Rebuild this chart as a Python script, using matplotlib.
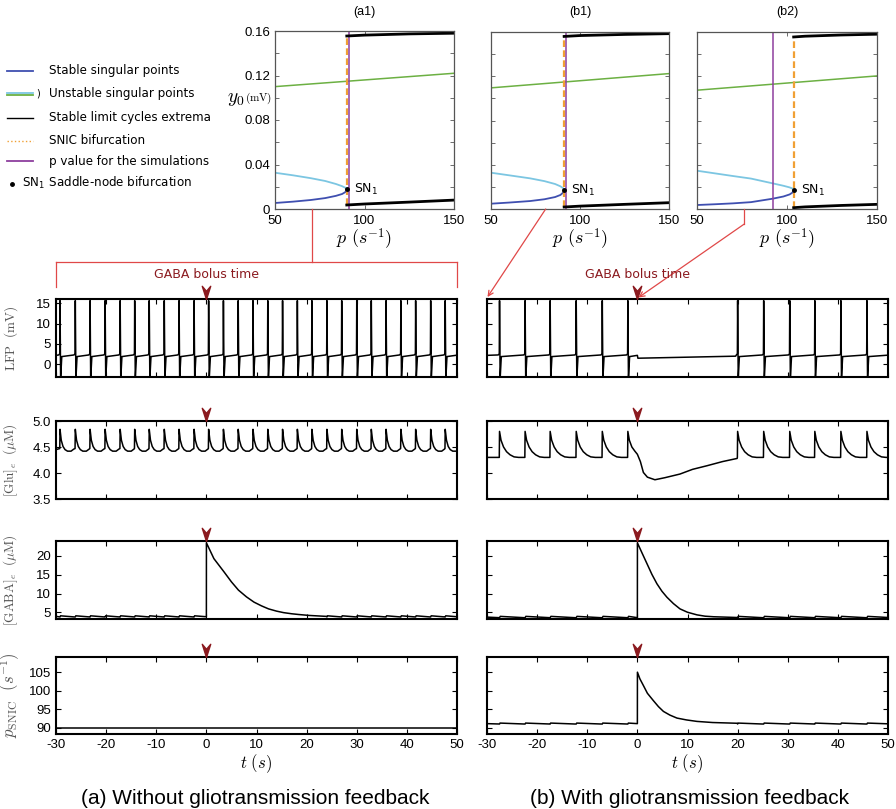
import numpy as np
import matplotlib.pyplot as plt
from matplotlib.lines import Line2D
from matplotlib.patches import FancyArrowPatch
from matplotlib.path import Path
from matplotlib.transforms import blended_transform_factory

plt.rcParams['font.family'] = ['Liberation Sans', 'DejaVu Sans']
plt.rcParams['mathtext.fontset'] = 'cm'

# ---------------- bifurcation diagrams (p in s^-1, y0 in mV) ----------------
a1_green_p = [50, 150]
a1_green_y = [0.110, 0.122]
a1_fold_p = [50, 60, 70, 78, 84, 87.5, 89.3, 90.1]
a1_unstable_y = [0.0326, 0.0303, 0.0277, 0.0252, 0.0225, 0.0205, 0.0191, 0.0176]
a1_stable_y = [0.0054, 0.0066, 0.0081, 0.0098, 0.0118, 0.0135, 0.0152, 0.0176]
a1_lc_p = [90.1, 100, 125, 150]
a1_lc_top = [0.1555, 0.1563, 0.1574, 0.1580]
a1_lc_bot = [0.0036, 0.0045, 0.0062, 0.0080]
a1_snic, a1_psim = 90.1, 91.4

b1_green_p = [50, 150]
b1_green_y = [0.1095, 0.1224]
b1_fold_p = [50, 60, 72, 80, 86, 89, 90.5, 91.1]
b1_unstable_y = [0.0328, 0.0305, 0.0277, 0.0252, 0.0226, 0.0205, 0.0188, 0.0171]
b1_stable_y = [0.0048, 0.0058, 0.0072, 0.0088, 0.0108, 0.0127, 0.0148, 0.0171]
b1_lc_p = [91.1, 100, 125, 150]
b1_lc_top = [0.1560, 0.1568, 0.1578, 0.1585]
b1_lc_bot = [0.0018, 0.0026, 0.0042, 0.0057]
b1_snic, b1_psim = 91.1, 92.0

b2_green_p = [50, 150]
b2_green_y = [0.1074, 0.1203]
b2_fold_p = [50, 60, 70, 80, 92, 98, 101.5, 103, 103.7]
b2_unstable_y = [0.0346, 0.0322, 0.0298, 0.0275, 0.0232, 0.0210, 0.0195, 0.0185, 0.0172]
b2_stable_y = [0.0036, 0.0043, 0.0051, 0.0062, 0.0093, 0.0113, 0.0132, 0.0148, 0.0172]
b2_lc_p = [103.7, 110, 130, 150]
b2_lc_top = [0.1555, 0.1562, 0.1573, 0.1580]
b2_lc_bot = [0.0012, 0.0019, 0.0032, 0.0042]
b2_snic, b2_psim = 103.7, 92.2

# ---------------- time series (t in s) ----------------
# spike times
spikes_a = [-29.2, -26.15, -23.2, -20.2, -17.2, -14.3, -11.4, -8.4, -5.45, -2.45,
            0.45, 3.4, 6.35, 9.3, 12.25, 15.2, 18.15, 21.05, 24.05, 27.0, 30.0,
            32.9, 35.85, 38.8, 41.75, 44.75, 47.65]
spikes_b = [-27.5, -22.4, -17.4, -12.2, -7.0, -1.9, 20.0, 25.2, 30.4, 35.4, 40.6, 45.8]

# shape of one LFP event (offset from spike time, mV)
lfp_dt = [-0.25, -0.05, 0.0, 0.12, 0.35]
lfp_v = [2.3, 2.6, 15.6, -3.6, 1.9]
lfp_b_bolus_t = [0.0, 0.1, 19.6]
lfp_b_bolus_v = [2.2, 1.5, 2.0]

# [Glu]e around each spike (offset, uM)
glu_a_dt = [-0.05, 0.0, 0.25, 0.6, 1.0, 1.5, 2.2, 2.75]
glu_a_v = [4.47, 4.84, 4.63, 4.51, 4.45, 4.42, 4.42, 4.46]
glu_b_dt = [-0.05, 0.0, 0.3, 0.8, 1.4, 2.1, 2.9, 3.8]
glu_b_v = [4.30, 4.80, 4.63, 4.50, 4.41, 4.35, 4.31, 4.30]
glu_b_bolus_t = [-0.5, 0.0, 0.6, 1.2, 2.0, 3.5, 5.5, 8.5, 11.0, 13.9, 17.0, 19.9]
glu_b_bolus_v = [4.42, 4.36, 4.22, 4.01, 3.92, 3.87, 3.91, 3.98, 4.07, 4.14, 4.22, 4.28]

# [GABA]e (uM)
gaba_a_dt = [0.0, 0.1, 2.85]
gaba_a_v = [3.75, 4.05, 3.75]
gaba_a_bolus_t = [0.0, 0.01, 1.5, 3.5, 5.0, 6.4, 8.0, 9.5, 11.0, 12.4, 14.0, 15.4, 17.0, 18.4, 20.5, 23.9]
gaba_a_bolus_v = [3.8, 23.5, 19.3, 15.8, 13.1, 10.9, 9.1, 7.7, 6.7, 5.9, 5.3, 4.9, 4.6, 4.4, 4.15, 3.9]
gaba_b_dt = [0.0, 0.15, 4.9]
gaba_b_v = [3.55, 3.9, 3.55]
gaba_b_bolus_t = [0.0, 0.01, 1.0, 1.9, 2.9, 3.9, 4.9, 5.9, 7.2, 8.5, 10.0, 11.9, 13.5, 15.2, 19.9]
gaba_b_bolus_v = [3.55, 23.5, 20.6, 18.0, 15.1, 12.6, 10.6, 9.0, 7.3, 5.9, 5.0, 4.3, 3.95, 3.8, 3.6]

# p_SNIC (s^-1)
psnic_a_t = [-30, 50]
psnic_a_v = [90.0, 90.0]
psnic_b_dt = [0.0, 0.1, 4.9]
psnic_b_v = [91.0, 91.25, 91.0]
psnic_b_bolus_t = [0.0, 0.01, 0.5, 1.2, 2.0, 3.2, 4.2, 5.2, 6.5, 7.9, 9.8, 11.9, 15.0, 19.9]
psnic_b_bolus_v = [91.1, 105.0, 103.2, 101.4, 99.3, 97.3, 95.7, 94.4, 93.4, 92.6, 92.1, 91.7, 91.4, 91.2]

C_STABLE = '#3f4fb0'
C_UNSTABLE = '#7cc6e2'
C_GREEN = '#6cb043'
C_ORANGE = '#f0a035'
C_PURPLE = '#8e3f9e'
C_DARKRED = '#8b1a1f'
C_RED = '#e04848'

W, H = 896, 809
fig = plt.figure(figsize=(W / 100, H / 100), dpi=100)


def px_axes(l, t, r, b):
    return fig.add_axes([l / W, 1 - b / H, (r - l) / W, (b - t) / H])


def fx(x):
    return x / W


def fy(y):
    return 1 - y / H


def build_trace(spikes, dt, val, t_lo, v_lo, t_hi, v_hi, bolus_t=(), bolus_v=()):
    b0 = bolus_t[0] if len(bolus_t) else np.inf
    b1 = bolus_t[-1] if len(bolus_t) else np.inf
    kept = [s for s in spikes if not (b0 <= s < b1)]
    bounds = sorted(kept + ([b0] if len(bolus_t) else []) + [t_hi + 1])
    ts, vs = [t_lo], [v_lo]
    for s in kept:
        nxt = min(b for b in bounds if b > s)
        for d, v in zip(dt, val):
            if s + d < nxt and s + d <= t_hi:
                ts.append(s + d)
                vs.append(v)
    ts += list(bolus_t)
    vs += list(bolus_v)
    order = np.argsort(ts, kind='stable')
    ts = list(np.array(ts)[order])
    vs = list(np.array(vs)[order])
    if ts[-1] < t_hi:
        ts.append(t_hi)
        vs.append(v_hi)
    return ts, vs


# ---------------- top: bifurcation panels ----------------
top_specs = [
    ('(a1)', (275, 31, 454, 209), a1_green_p, a1_green_y, a1_fold_p, a1_unstable_y, a1_stable_y,
     a1_lc_p, a1_lc_top, a1_lc_bot, a1_snic, a1_psim),
    ('(b1)', (491, 32, 669, 209), b1_green_p, b1_green_y, b1_fold_p, b1_unstable_y, b1_stable_y,
     b1_lc_p, b1_lc_top, b1_lc_bot, b1_snic, b1_psim),
    ('(b2)', (697, 32, 877, 209), b2_green_p, b2_green_y, b2_fold_p, b2_unstable_y, b2_stable_y,
     b2_lc_p, b2_lc_top, b2_lc_bot, b2_snic, b2_psim),
]

for i, (title, box, gp, gy, fp, uy, sy, lp, lt, lb, snic, psim) in enumerate(top_specs):
    ax = px_axes(*box)
    ax.plot(gp, gy, color=C_GREEN, lw=1.1)
    ax.plot(fp, uy, color=C_UNSTABLE, lw=1.3)
    ax.plot(fp, sy, color=C_STABLE, lw=1.3)
    ax.plot([snic, snic], [lb[0], lt[0]], color=C_ORANGE, lw=1.6, ls=(0, (3, 1.5)))
    ax.plot([psim, psim], [0, 0.16], color=C_PURPLE, lw=1.1)
    ax.plot(lp, lt, color='black', lw=2.0)
    ax.plot(lp, lb, color='black', lw=2.0)
    ax.plot([fp[-1]], [uy[-1]], 'o', color='black', ms=2.5)
    ax.text(fp[-1] + 4, uy[-1], r'SN$_\mathregular{1}$', fontsize=9, va='center',
            family='DejaVu Sans')
    ax.set_xlim(50, 150)
    ax.set_ylim(0, 0.16)
    ax.set_xticks([50, 100, 150])
    ax.set_yticks([0, 0.04, 0.08, 0.12, 0.16])
    ax.set_yticks(np.arange(0.02, 0.16, 0.04), minor=True)
    ax.tick_params(which='both', direction='in', top=True, right=True, labelsize=9.5,
                   length=3, width=0.6, color='#555555')
    ax.tick_params(axis='x', pad=4)
    if i == 0:
        ax.set_yticklabels(['0', '0.04', '0.08', '0.12', '0.16'])
    else:
        ax.set_yticklabels([])
    for sp in ax.spines.values():
        sp.set_color('#555555')
        sp.set_linewidth(0.9)
    ax.set_xlabel(r'$p\ (s^{-1})$', fontsize=13, labelpad=0)
    cx = (box[0] + box[2]) / 2
    fig.text(fx(cx), fy(12), title, fontsize=9, ha='center', va='center')

fig.text(fx(236), fy(100), r'$y_0$', fontsize=14, ha='center', va='center')
fig.text(fx(259), fy(98), r'$\mathrm{(mV)}$', fontsize=8, ha='center', va='center')

# legend at the left
leg_font = dict(fontsize=8.6, family='DejaVu Sans', va='center')
fig.add_artist(Line2D([fx(7), fx(33)], [fy(70.7)] * 2, color=C_STABLE, lw=1.3))
fig.text(fx(49), fy(70.7), 'Stable singular points', **leg_font)
fig.add_artist(Line2D([fx(7), fx(33)], [fy(92.6)] * 2, color=C_UNSTABLE, lw=1.3))
fig.add_artist(Line2D([fx(7), fx(33)], [fy(95.4)] * 2, color=C_GREEN, lw=1.3))
fig.text(fx(36), fy(94), ')', fontsize=7, family='DejaVu Sans', va='center')
fig.text(fx(49), fy(94), 'Unstable singular points', **leg_font)
fig.add_artist(Line2D([fx(7), fx(33)], [fy(117.7)] * 2, color='black', lw=1.0))
fig.text(fx(49), fy(117.7), 'Stable limit cycles extrema', **leg_font)
fig.add_artist(Line2D([fx(7), fx(33)], [fy(140.7)] * 2, color=C_ORANGE, lw=1.0, ls=':'))
fig.text(fx(49), fy(140.7), 'SNIC bifurcation', **leg_font)
fig.add_artist(Line2D([fx(7), fx(33)], [fy(161.3)] * 2, color=C_PURPLE, lw=1.3))
fig.text(fx(49), fy(161.3), 'p value for the simulations', **leg_font)
fig.add_artist(Line2D([fx(12)], [fy(184)], marker='o', ms=2.5, color='black', ls='none'))
fig.text(fx(22), fy(183.3), r'SN$_\mathregular{1}$ Saddle-node bifurcation', **leg_font)

# ---------------- bottom: time series panels ----------------
lfp_a = build_trace(spikes_a, lfp_dt, lfp_v, -30, 2.2, 50, 2.25)
lfp_b = build_trace(spikes_b, lfp_dt, lfp_v, -30, 2.2, 50, 2.25, lfp_b_bolus_t, lfp_b_bolus_v)
glu_a = build_trace(spikes_a, glu_a_dt, glu_a_v, -30, 4.45, 50, 4.42)
glu_b = build_trace(spikes_b, glu_b_dt, glu_b_v, -30, 4.30, 50, 4.30, glu_b_bolus_t, glu_b_bolus_v)
gaba_a = build_trace(spikes_a, gaba_a_dt, gaba_a_v, -30, 3.9, 50, 3.8, gaba_a_bolus_t, gaba_a_bolus_v)
gaba_b = build_trace(spikes_b, gaba_b_dt, gaba_b_v, -30, 3.7, 50, 3.6, gaba_b_bolus_t, gaba_b_bolus_v)
psnic_b = build_trace(spikes_b, psnic_b_dt, psnic_b_v, -30, 91.1, 50, 91.05,
                      psnic_b_bolus_t, psnic_b_bolus_v)

rows = [
    ((299, 377), (-3.1, 16), [0, 5, 10, 15], r'$\mathrm{LFP}\ \ (\mathrm{mV})$', lfp_a, lfp_b),
    ((421, 499), (3.5, 5.0), [3.5, 4.0, 4.5, 5.0], r'$[\mathrm{Glu}]_e\ \ (\mu\mathrm{M})$', glu_a, glu_b),
    ((541, 619), (3.2, 24), [5, 10, 15, 20], r'$[\mathrm{GABA}]_e\ \ (\mu\mathrm{M})$', gaba_a, gaba_b),
    ((657, 734), (88.3, 109.1), [90, 95, 100, 105], r'$p_{\mathrm{SNIC}}\ \ (s^{-1})$',
     (psnic_a_t, psnic_a_v), psnic_b),
]

arrow_marker = Path([(0, 0), (-0.32, 1.0), (0, 0.62), (0.32, 1.0), (0, 0)],
                    [Path.MOVETO, Path.LINETO, Path.LINETO, Path.LINETO, Path.CLOSEPOLY])

for r, ((top, bot), ylim, yt, ylab, tr_a, tr_b) in enumerate(rows):
    for c, (l, rr) in enumerate([(56, 457), (487, 888)]):
        ax = px_axes(l, top, rr, bot)
        tr = tr_a if c == 0 else tr_b
        ax.plot(tr[0], tr[1], color='black', lw=1.1)
        ax.set_xlim(-30, 50)
        ax.set_ylim(*ylim)
        ax.set_xticks(np.arange(-30, 51, 10))
        ax.set_yticks(yt)
        ax.tick_params(direction='in', top=True, right=True, labelsize=9.5,
                       length=3.5, width=0.8)
        for sp in ax.spines.values():
            sp.set_linewidth(1.5)
        if r < 3:
            ax.set_xticklabels([])
        else:
            ax.set_xticklabels(['-30', '-20', '-10', '0', '10', '20', '30', '40', '50'])
            ax.set_xlabel(r'$t\ (s)$', fontsize=12, labelpad=1)
        if c == 0:
            if r == 1:
                ax.set_yticklabels(['3.5', '4.0', '4.5', '5.0'])
            ax.set_ylabel(ylab, fontsize=12 if r == 3 else 9.5, color='#555555')
            ax.yaxis.set_label_coords(-0.085 if r == 3 else -0.09, 0.5)
        else:
            ax.set_yticklabels([])
        trans = blended_transform_factory(ax.transData, ax.transAxes)
        ax.plot([0], [1], marker=arrow_marker, ms=19, color=C_DARKRED, mec=C_DARKRED,
                transform=trans, clip_on=False, zorder=5)
        if r == 0:
            x0 = l + (rr - l) * 30 / 80
            fig.text(fx(x0), fy(274), 'GABA bolus time', fontsize=9, family='DejaVu Sans',
                     color=C_DARKRED, ha='center', va='center')

# ---------------- red connectors ----------------
for seg in [((311.5, 209), (311.5, 262)), ((56, 262), (457, 262)),
            ((56, 262), (56, 287)), ((457, 262), (457, 287)),
            ((744.3, 209), (744.3, 224))]:
    (x1, y1), (x2, y2) = seg
    fig.add_artist(Line2D([fx(x1), fx(x2)], [fy(y1), fy(y2)], color=C_RED, lw=0.9))
for (x1, y1), (x2, y2) in [((545.7, 209), (487.5, 297)), ((744.3, 224), (638.5, 297.5))]:
    fig.add_artist(FancyArrowPatch((fx(x1), fy(y1)), (fx(x2), fy(y2)), transform=fig.transFigure,
                                   arrowstyle='->', mutation_scale=9, color=C_RED, lw=0.9,
                                   shrinkA=0, shrinkB=0))

fig.text(fx(255), fy(799), '(a) Without gliotransmission feedback', fontsize=15,
         ha='center', va='center')
fig.text(fx(690), fy(799), '(b) With gliotransmission feedback', fontsize=15,
         ha='center', va='center')

fig.savefig('out.png', dpi=100)
